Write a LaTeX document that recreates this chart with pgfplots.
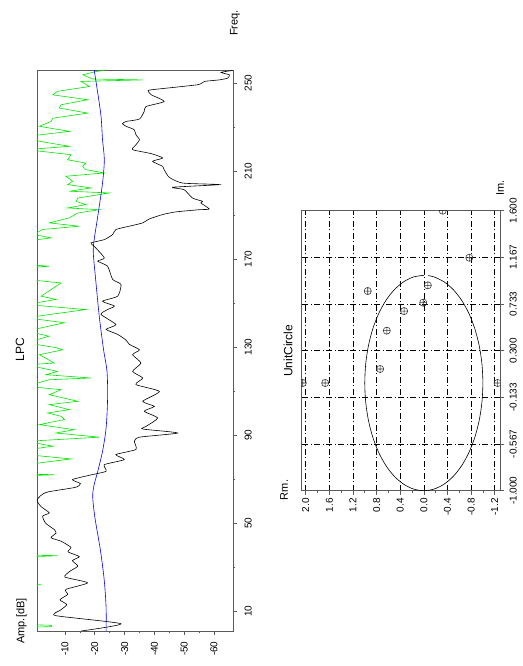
\documentclass[border=0pt]{standalone}
\usepackage{fontspec}
\setmainfont{Liberation Sans}
\usepackage{pgfplots}
\usepackage{pgfplotstable}
\pgfplotsset{compat=1.18}

\pgfplotstableread{
freq amp
1.0 -15.4
4.3 -28.8
8.0 -6.8
10.5 -8.5
13.0 -10.6
15.2 -8.3
17.6 -10.9
19.9 -10.3
22.9 -17.6
25.5 -10.0
28.0 -11.5
30.5 -14.3
33.0 -12.5
34.8 -14.8
37.0 -11.0
39.0 -12.0
41.8 -8.7
43.4 -5.3
45.5 -7.0
47.1 -6.4
50.0 -3.5
53.2 -2.5
54.7 -4.7
57.5 -2.0
60.3 -0.6
62.5 -1.8
64.2 -4.2
66.3 -13.5
68.0 -15.2
69.8 -12.5
71.8 -18.2
73.6 -23.8
76.6 -23.2
78.9 -29.9
81.2 -27.1
83.5 -33.8
87.2 -33.3
89.1 -35.0
91.0 -47.8
92.8 -36.1
94.0 -37.2
97.8 -41.1
100.9 -36.6
103.1 -40.0
105.4 -36.1
109.9 -41.7
113.0 -33.8
116.0 -36.1
119.0 -32.7
122.8 -35.5
126.6 -32.7
128.8 -35.0
131.3 -31.6
133.2 -30.5
135.8 -27.7
138.1 -23.8
140.3 -27.1
144.9 -22.1
147.1 -24.3
148.7 -26.6
150.9 -22.6
153.2 -27.7
158.5 -28.8
160.8 -26.0
166.8 -24.3
169.1 -21.0
170.6 -23.2
175.9 -19.8
177.4 -18.7
178.9 -23.2
181.2 -26.0
183.5 -27.1
185.0 -31.6
186.5 -36.1
188.3 -38.3
190.3 -42.8
191.5 -47.2
192.5 -55.1
192.8 -58.4
195.6 -55.6
196.3 -56.2
197.8 -52.8
201.6 -50.0
202.7 -46.1
203.9 -61.8
204.6 -49.5
207.2 -45.0
210.7 -43.3
212.2 -42.8
214.5 -39.4
216.0 -42.8
218.0 -38.9
219.8 -32.7
222.0 -33.8
224.3 -35.0
226.6 -33.8
228.9 -33.2
230.4 -30.5
231.6 -29.3
232.6 -30.5
233.7 -35.0
237.2 -36.6
239.4 -37.2
241.7 -43.3
244.7 -39.0
246.3 -38.0
247.0 -39.0
249.3 -54.5
250.8 -56.8
251.5 -61.8
252.3 -64.6
253.8 -65.2
254.9 -62.4
255.8 -66.3
}\blacktab

\pgfplotstableread{
freq amp
1 5
2.6 5
3.0 -5.5
3.6 -5.5
4.0 5
21.5 5
22.0 -2
22.5 5
34.6 5
35.2 -7.5
35.8 5
71.5 5
72.0 -6.4
72.6 5
75.9 3
77.4 -1.4
79.2 -12.0
81.2 3
83.5 2
85.0 -5.9
87.2 3
89.1 -21.5
91.0 -7.0
92.5 -13.1
94.8 -1.4
97.1 -9.8
98.6 -8.7
100.1 -4.2
101.6 -11.5
103.9 -4.7
105.4 -14.3
108.4 -4.7
110.7 -8.7
112.2 3
115.2 -4.7
116.0 -18.7
117.5 -3.6
119.0 -7.5
122.0 3
122.8 -6.4
126.6 -1.4
128.8 -9.2
129.8 -7.0
132.0 3
135.0 -4.7
137.3 3
141.1 -9.8
143.4 3
147.1 -17.0
149.4 3
151.7 -7.0
153.2 -2.0
159.2 -8.7
160.8 3
166.1 3
166.8 -4.7
167.6 3
178.2 3
179.7 -5.3
181.2 0.5
183.5 -2.5
185.0 -14.8
186.5 -4.7
188.8 -11.5
191.0 -14.3
192.5 -21.5
193.3 -10.9
194.8 -17.0
196.3 -13.7
197.8 -14.3
200.1 -24.9
200.9 -11.5
202.4 -18.7
203.9 -10.9
205.4 -12.6
207.7 -10.3
209.2 -23.2
210.7 -17.0
212.2 -15.9
213.7 -17.0
215.2 -10.9
217.5 -12.0
219.8 3
221.3 -11.5
223.6 -1.4
225.8 3
228.1 -11.5
230.4 -1.4
232.6 -5.3
234.1 -5.9
236.4 -17.6
238.7 -8.1
240.2 -8.7
242.5 -17.6
244.7 -5.9
246.3 -7.5
248.5 -18.2
250.8 -15.4
251.5 -36.1
251.9 -19.3
253.8 -16.0
255.3 -20.4
256 -23.8
}\greentab

\pgfplotstableread{
freq amp
1 -23.8
11.6 -23.8
23.7 -23.2
35.8 -22.1
44.9 -21.0
52 -20.1
58.5 -19.5
63.0 -19.3
67.6 -19.8
73.6 -21.0
82.7 -22.6
93.3 -23.8
106.9 -24.3
119.0 -24.1
129.3 -22.9
144.1 -21.5
159.3 -20.4
172.9 -19.5
178.9 -19.8
189.5 -21.0
204.6 -22.6
215.2 -23.2
224.3 -22.6
234.9 -22.1
245.5 -21.0
256 -19.8
}\bluetab

\pgfplotstableread{
rm im
2.05 0
1.67 0
0.95 0.854
0.627 0.486
0.74 0.13
0.334 0.668
0.01 0.746
-0.068 0.907
-0.32 1.6
-0.77 1.163
-1.25 0
}\roots

\pgfplotstableread{
rm im
-0.0698 0.9976
-0.1736 0.9848
-0.3420 0.9397
-0.5 0.8660
-0.6428 0.7660
-0.7660 0.6428
-0.8660 0.5
-0.9397 0.3420
-0.9848 0.1736
-1 0
-0.9848 -0.1736
-0.9397 -0.3420
-0.8660 -0.5
-0.7660 -0.6428
-0.6428 -0.7660
-0.5 -0.8660
-0.3420 -0.9397
-0.1736 -0.9848
0 -1
0.1736 -0.9848
0.3420 -0.9397
0.5 -0.8660
0.6428 -0.7660
0.7660 -0.6428
0.8660 -0.5
0.9397 -0.3420
0.9848 -0.1736
1 0
0.9848 0.1736
0.9397 0.3420
0.8660 0.5
0.7660 0.6428
0.6428 0.7660
0.5 0.8660
0.3420 0.9397
0.1736 0.9848
0 1
}\circletab

\definecolor{frame}{RGB}{90,90,90}
\definecolor{lgreen}{RGB}{0,230,0}

\begin{document}
\begin{tikzpicture}[x=1pt,y=1pt]
\useasboundingbox (0,0) rectangle (522,666);
\pgfplotsset{
  every axis/.append style={
    scale only axis,
    anchor=south west,
    axis line style={draw=frame, line width=0.7pt},
    tick align=outside,
    major tick length=4pt,
    minor tick length=2.5pt,
    every tick/.style={draw=frame, line width=0.6pt},
    tick label style={font=\fontsize{10}{12}\selectfont},
    /pgf/number format/assume math mode=true,
  }
}
% LPC plot
\begin{axis}[
  at={(37pt,35pt)},
  width=196pt, height=561pt,
  x dir=reverse,
  xmin=-66.4, xmax=-0.6, ymin=1, ymax=256,
  xtick={-60,-50,-40,-30,-20,-10},
  xticklabels={-60,-50,-40,-30,-20,-10},
  ytick={10,50,90,130,170,210,250},
  yticklabels={10,50,90,130,170,210,250},
  minor x tick num=1, minor y tick num=1,
  xtick pos=left, ytick pos=right,
  xticklabel style={rotate=90, anchor=east},
  yticklabel style={rotate=90, anchor=north},
  xticklabel shift=3pt,
  yticklabel shift=4pt,
  clip=true,
]
\addplot[lgreen, line width=0.6pt] table[x=amp, y=freq] {\greentab};
\addplot[blue, line width=0.6pt, smooth] table[x=amp, y=freq] {\bluetab};
\addplot[black, line width=0.6pt, smooth, tension=0.35] table[x=amp, y=freq] {\blacktab};
\end{axis}

% Unit circle plot
\begin{axis}[
  at={(301pt,175.3pt)},
  width=199pt, height=280pt,
  x dir=reverse,
  xmin=-1.29, xmax=2.08, ymin=-1, ymax=1.6,
  xtick={-1.2,-0.8,-0.4,0,0.4,0.8,1.2,1.6,2.0},
  xticklabels={-1.2,-0.8,-0.4,0.0,0.4,0.8,1.2,1.6,2.0},
  ytick={-1,-0.56667,-0.13333,0.3,0.73333,1.16667,1.6},
  yticklabels={-1.000,-0.567,-0.133,0.300,0.733,1.167,1.600},
  minor x tick num=1,
  xtick pos=left, ytick pos=right,
  xticklabel style={rotate=90, anchor=east},
  yticklabel style={rotate=90, anchor=north},
  xticklabel shift=0pt,
  yticklabel shift=2pt,
  grid=major,
  major grid style={draw=black, line width=0.5pt, dash pattern=on 6pt off 2.5pt on 1pt off 2.5pt},
  clip marker paths=true,
]
\addplot[black, line width=0.6pt, smooth] table[x=rm, y=im] {\circletab};
\addplot[only marks, mark=oplus, mark size=3.6pt, mark options={draw=black!80, line width=0.55pt}] table[x=rm, y=im] {\roots};
\end{axis}

% titles and axis labels
\node[rotate=90, font=\fontsize{12}{14}\selectfont] at (20,316) {LPC};
\node[rotate=90, font=\fontsize{11}{13}\selectfont] at (21.5,45) {Amp.[dB]};
\node[rotate=90, font=\fontsize{11}{13}\selectfont] at (235,643) {Freq.};
\node[rotate=90, font=\fontsize{12}{14}\selectfont] at (288,315) {UnitCircle};
\node[rotate=90, font=\fontsize{11}{13}\selectfont] at (284,176) {Rm.};
\node[rotate=90, font=\fontsize{11}{13}\selectfont] at (500,478) {Im.};
\end{tikzpicture}
\end{document}
